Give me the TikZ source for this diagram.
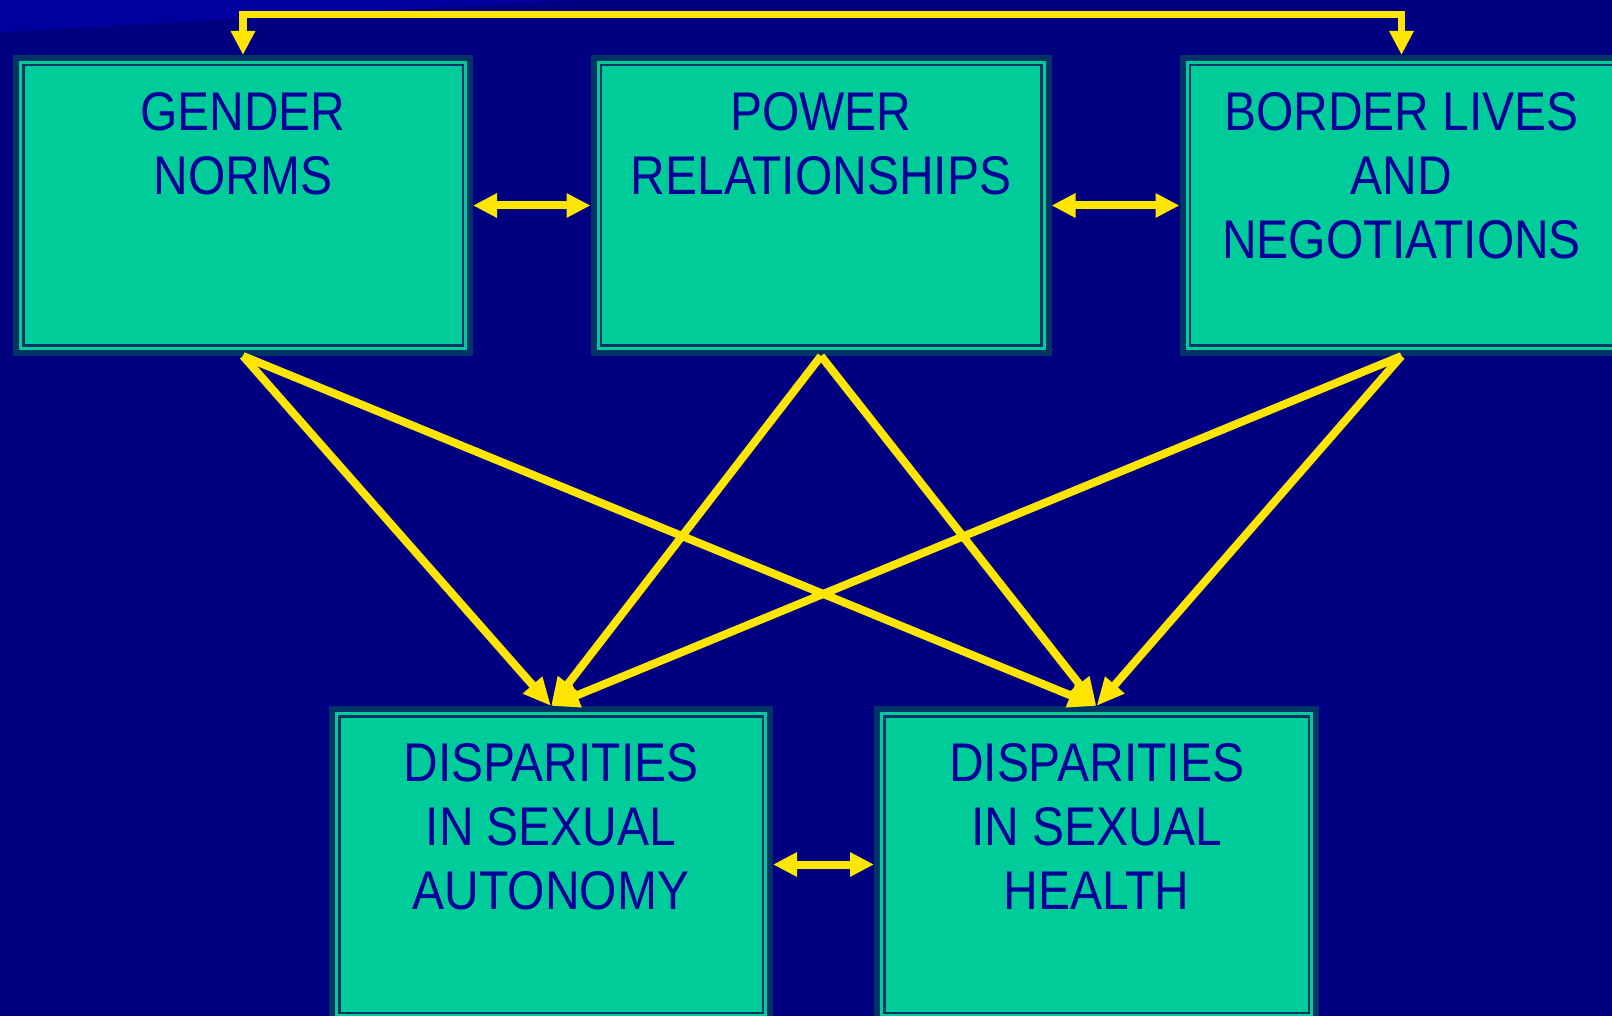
\documentclass[tikz,border=0pt]{standalone}
\usepackage{fontspec}
\setmainfont{Liberation Sans}[FakeStretch=0.88]
\usetikzlibrary{arrows.meta,positioning}

\definecolor{slidebg}{RGB}{0,0,128}
\definecolor{slidewedge}{RGB}{0,0,160}
\definecolor{boxfill}{RGB}{0,204,153}
\definecolor{boxedge}{RGB}{0,51,102}
\definecolor{boxtext}{RGB}{0,0,153}
\definecolor{linkyellow}{RGB}{255,230,0}

% box contents: width, height, text (first baseline 68pt below the top)
\newcommand{\panel}[3]{\parbox[c][#2pt][t]{#1pt}{\centering
  \fontsize{54.5pt}{64pt}\selectfont\parskip=0pt
  \vspace*{23.2pt}\strut #3}}

\begin{document}
\begin{tikzpicture}[x=1pt, y=-1pt,
					>={Triangle[length=24pt,width=23pt]},
					factor box/.style={draw=boxedge,
					                   line width=2.5pt,
					                   double=boxfill,
					                   double distance=3pt,
					                   fill=boxfill,
					                   preaction={draw=boxedge, line width=15pt},
					                   inner sep=0pt,
					                   outer sep=7.5pt,
					                   text=boxtext},
					link/.style={-{Triangle[length=28pt,width=24pt]}, color=linkyellow, line width=8pt},
					both link/.style={<->, draw=linkyellow, line width=8pt}]

  \useasboundingbox (0,0) rectangle (1612,1016);
  \clip (0,0) rectangle (1612,1016);
  \fill[slidebg] (0,0) rectangle (1612,1016);
  \fill[slidewedge] (0,0) -- (573,0) -- (0,32) -- cycle;

  \node[factor box] (PR) at (821,205.5) {\panel{446}{286}{POWER\\RELATIONSHIPS}};
  \node[factor box] (GN) [left=117.5pt of PR] {\panel{445}{286}{GENDER\\NORMS}};
  \node[factor box] (BL) [right=128pt of PR] {\panel{429}{286}{BORDER LIVES\\AND\\NEGOTIATIONS}};

  \node[factor box] (DA) at (551,864.5) {\panel{429}{302}{DISPARITIES\\IN SEXUAL\\AUTONOMY}};
  \node[factor box] (DH) [right=101pt of DA] {\panel{430}{302}{DISPARITIES\\IN SEXUAL\\HEALTH}};

  \coordinate (top rail) at (0,14.7);
  \draw[both link, line width=7.5pt] (GN.north) -- (GN.north |- top rail) -| (BL.north);

  \draw[both link] (GN.east) -- (PR.west);
  \draw[both link] (PR.east) -- (BL.west);
  \draw[both link] (DA.east) -- (DH.west);

  \path[link]
    (GN.south) edge (DA.north)
               edge (DH.north)
    (PR.south) edge (DA.north)
               edge (DH.north)
    (BL.south) edge (DA.north)
               edge (DH.north);
\end{tikzpicture}
\end{document}
